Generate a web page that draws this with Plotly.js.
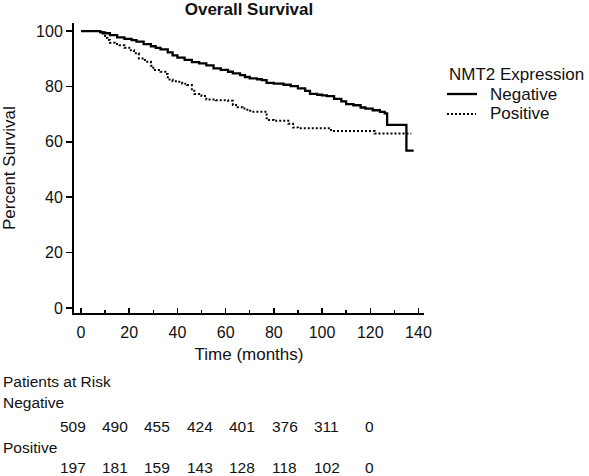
<!DOCTYPE html>
<html>
<head>
<meta charset="utf-8">
<script src="https://cdn.plot.ly/plotly-3.0.1.min.js"></script>
<style>html,body{margin:0;padding:0;background:#fff;}#chart{width:589px;height:476px;}</style>
</head>
<body>
<div id="chart"></div>
<script>
// Kaplan-Meier step data
const negTime = [0, 8, 9, 12, 15, 18, 21, 23, 26, 29, 31, 33, 36, 38, 40, 43, 46, 49, 52, 55, 58, 61, 63, 66, 68, 70, 73, 75, 77, 80, 84, 87, 90, 93, 95, 98, 100, 102, 105, 108, 110, 113, 116, 118, 121, 124, 126, 127, 135, 138];
const negSurv = [100, 99.6, 99.2, 98.5, 97.7, 97.2, 96.7, 96.2, 95.3, 94.5, 93.9, 93.4, 92.3, 91.2, 90.4, 89.6, 88.8, 88.3, 87.6, 86.5, 86.0, 85.3, 84.7, 84.1, 83.4, 82.9, 82.6, 82.3, 81.3, 81.0, 80.6, 80.1, 79.3, 78.4, 77.3, 77.0, 76.8, 76.5, 75.5, 74.6, 73.6, 73.2, 72.4, 72.0, 71.4, 70.8, 70.3, 66.1, 56.8, 56.8];

const posTime = [0, 8, 10, 11, 12, 14, 16, 18, 20, 22, 24, 26, 27, 29, 30, 33, 35, 36, 38, 40, 42, 44, 46, 47, 50, 52, 56, 61, 63, 65, 67, 69, 71, 77, 78, 80, 86, 88, 90, 103.75, 121.8, 137];
const posSurv = [100, 99.6, 97.5, 96.8, 95.8, 95.3, 94.9, 94.0, 93.1, 92.0, 90.1, 89.5, 88.9, 87.5, 85.9, 85.3, 84.5, 82.5, 81.9, 81.7, 81.0, 80.5, 79.0, 77.3, 76.5, 75.3, 75.0, 74.8, 73.3, 72.5, 72.0, 71.2, 70.9, 68.5, 67.9, 67.6, 66.5, 65.2, 64.9, 63.9, 63.0, 63.0];

const groupNames = ["Negative", "Positive"];
const legendTitle = "NMT2 Expression";
const xTickVals = [0, 20, 40, 60, 80, 100, 120, 140];
const yTickVals = [0, 20, 40, 60, 80, 100];
const riskNeg = [509, 490, 455, 424, 401, 376, 311, 0];
const riskPos = [197, 181, 159, 143, 128, 118, 102, 0];

const FONT = "Arial, 'Liberation Sans', sans-serif";
const INK = "#111111";
const solidLine = {color: "#000", width: 2.3};
const dotLine = {color: "#000", width: 2, dash: "2px,2px"};

const traces = [
  {x: negTime, y: negSurv, name: groupNames[0], type: "scatter", mode: "lines",
   line: Object.assign({shape: "hv"}, solidLine), showlegend: false},
  {x: posTime, y: posSurv, name: groupNames[1], type: "scatter", mode: "lines",
   line: Object.assign({shape: "hv"}, dotLine), showlegend: false}
];

// pixel geometry of the plot area
const L = 74, R = 424, T = 23, B = 313, W = 589, H = 476;
const px2x = p => (p - L) / (R - L);
const py2y = p => (B - p) / (B - T);

const annotations = [];
function addText(text, xp, yp, anchor, size, angle) {
  annotations.push({text: text, xref: "paper", yref: "paper", x: px2x(xp), y: py2y(yp),
    xanchor: anchor, yanchor: "middle", showarrow: false, textangle: angle || 0,
    font: {family: FONT, size: size, color: INK}});
}
// y-axis title
addText("Percent Survival", 9, 168, "center", 17, -90);

// risk table
const RISK_FONT = 15.5;
addText("Patients at Risk", 1, 381, "left", RISK_FONT);
addText(groupNames[0], 1, 402, "left", RISK_FONT);
addText(groupNames[1], 1, 447, "left", RISK_FONT);
const colStart = 72.5, colStep = 42.4;
riskNeg.forEach((v, i) => addText(String(v), colStart + i * colStep, 426, "center", RISK_FONT));
riskPos.forEach((v, i) => addText(String(v), colStart + i * colStep, 467, "center", RISK_FONT));

// legend (title, entries, sample lines)
const LEG_FONT = 17;
addText(legendTitle, 447, 74, "left", LEG_FONT);
addText(groupNames[0], 488, 94, "left", LEG_FONT);
addText(groupNames[1], 488, 114, "left", LEG_FONT);
const shapes = [
  {type: "line", xref: "paper", yref: "paper", x0: px2x(447), x1: px2x(477), y0: py2y(94), y1: py2y(94), line: solidLine},
  {type: "line", xref: "paper", yref: "paper", x0: px2x(447), x1: px2x(476), y0: py2y(114), y1: py2y(114), line: dotLine}
];

const layout = {
  width: W, height: H,
  margin: {l: L, r: W - R, t: T, b: H - B, pad: 0},
  paper_bgcolor: "#fff", plot_bgcolor: "#fff",
  font: {family: FONT, size: 16, color: INK},
  title: {text: "<b>Overall Survival</b>", x: 0.5, xref: "paper", y: 1 - 9 / H, yref: "container",
          xanchor: "center", yanchor: "middle", font: {family: FONT, size: 17, color: INK}},
  xaxis: {
    range: [-2.9, 142.3], tickvals: xTickVals, ticks: "inside", ticklen: 5, tickwidth: 1.5,
    tickcolor: "#000", showline: true, linecolor: "#000", linewidth: 2, showgrid: false,
    zeroline: false, tickfont: {family: FONT, size: 16, color: INK}, ticklabelstandoff: 4,
    minor: {ticks: "inside", tick0: 0, dtick: 10, ticklen: 3, tickwidth: 1.5, tickcolor: "#000", showgrid: false},
    title: {text: "Time (months)", standoff: 8, font: {family: FONT, size: 17, color: INK}},
    automargin: false, fixedrange: true
  },
  yaxis: {
    range: [-1.8, 102.9], tickvals: yTickVals, ticks: "outside", ticklen: 6, tickwidth: 1.5,
    tickcolor: "#000", showline: true, linecolor: "#000", linewidth: 2, showgrid: false,
    zeroline: false, tickfont: {family: FONT, size: 16, color: INK},
    automargin: false, fixedrange: true
  },
  showlegend: false,
  annotations: annotations,
  shapes: shapes
};

Plotly.newPlot("chart", traces, layout, {displayModeBar: false, staticPlot: true});
</script>
</body>
</html>
